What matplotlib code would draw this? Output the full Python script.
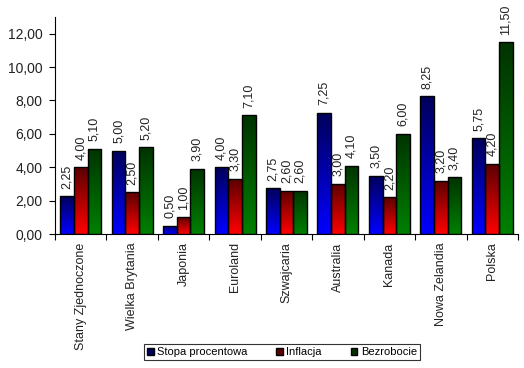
import matplotlib.pyplot as plt
import numpy as np
from matplotlib.colors import LinearSegmentedColormap
from matplotlib.patches import Patch

plt.rcParams['font.family'] = ['Liberation Sans', 'DejaVu Sans']

# data
kraje = ['Stany Zjednoczone', 'Wielka Brytania', 'Japonia', 'Euroland', 'Szwajcaria',
         'Australia', 'Kanada', 'Nowa Zelandia', 'Polska']
stopa = [2.25, 5.00, 0.50, 4.00, 2.75, 7.25, 3.50, 8.25, 5.75]
inflacja = [4.00, 2.50, 1.00, 3.30, 2.60, 3.00, 2.20, 3.20, 4.20]
bezrobocie = [5.10, 5.20, 3.90, 7.10, 2.60, 4.10, 6.00, 3.40, 11.50]
serie = ['Stopa procentowa', 'Inflacja', 'Bezrobocie']

# gradients: dark on top -> bright at bottom
kolory = [('#00005a', '#0000ff'), ('#5a0000', '#ff0000'), ('#003300', '#008000')]

fig = plt.figure(figsize=(5.24, 3.68), dpi=100)
ax = fig.add_axes([55/524, 1-234/368, 463/524, 217/368])

x = np.arange(len(kraje))
w = 0.265
grad = np.linspace(0, 1, 256).reshape(-1, 1)

for i, vals in enumerate([stopa, inflacja, bezrobocie]):
    cmap = LinearSegmentedColormap.from_list('g%d' % i, [kolory[i][1], kolory[i][0]])
    pos = x + (i - 1) * w
    bars = ax.bar(pos, vals, w, color='none', edgecolor='black', linewidth=1.0, zorder=3)
    for b, v in zip(bars, vals):
        im = ax.imshow(grad, cmap=cmap, aspect='auto', origin='lower',
                       extent=[b.get_x(), b.get_x() + w, 0, v], zorder=2)
        im.set_clip_path(b)
        ax.text(b.get_x() + w/2, v + 0.45, ('%.2f' % v).replace('.', ','),
                rotation=90, ha='center', va='bottom', fontsize=9, color='#222222')

ax.set_xlim(-0.5, len(kraje) - 0.5)
ax.set_ylim(0, 13)
ax.set_yticks(np.arange(0, 13, 2))
ax.set_yticklabels([('%.2f' % t).replace('.', ',') for t in np.arange(0, 13, 2)],
                   fontsize=10, color='#222222')
ax.set_xticks(np.arange(len(kraje) + 1) - 0.5)
ax.set_xticklabels([])
ax.set_xticks(x, minor=True)
ax.set_xticklabels(kraje, minor=True, rotation=90, fontsize=9, color='#222222')
ax.tick_params(axis='x', which='minor', length=0, pad=6)
ax.tick_params(axis='x', which='major', length=4, direction='out')
ax.tick_params(axis='y', length=4, direction='out', pad=5)
for s in ['top', 'right']:
    ax.spines[s].set_visible(False)

handles = [Patch(facecolor=c[0], edgecolor='black') for c in kolory]
leg = fig.legend(handles, serie, loc='center', bbox_to_anchor=(282/524, 1-352/368),
                 ncol=3, fontsize=8, frameon=True, fancybox=False, edgecolor='black',
                 handlelength=0.6, handleheight=0.6, handletextpad=0.3, columnspacing=2.6,
                 borderpad=0.25, borderaxespad=0)
leg.get_frame().set_linewidth(0.8)

fig.savefig('out.png', dpi=100)
